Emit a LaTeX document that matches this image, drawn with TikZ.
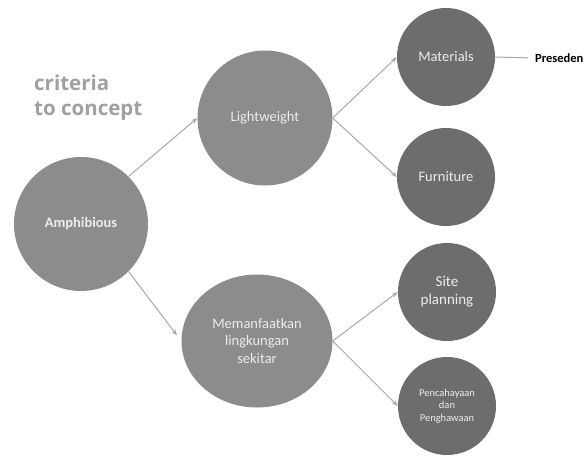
\documentclass[tikz,border=0pt]{standalone}
\usepackage{fontspec}
\setmainfont{Carlito}
\newfontfamily\titlefont{Open Sans}
\usetikzlibrary{arrows.meta,shapes.geometric}
\definecolor{bubA}{HTML}{8C8C8C}
\definecolor{bubB}{HTML}{6D6D6D}
\definecolor{ink}{HTML}{ECECEC}
\definecolor{linec}{HTML}{A8A8A8}
\definecolor{headc}{HTML}{A0A0A0}

\begin{document}
\begin{tikzpicture}[x=1pt,y=-1pt,
  bub/.style={circle,fill=bubA,text=ink,align=center,inner sep=0pt,
    font=\fontsize{14.5}{17.5}\selectfont},
  subbub/.style={bub,fill=bubB,minimum size=98pt},
  link/.style={linec,line width=1pt,-{Stealth[length=6pt,width=4.5pt]}}]
  \useasboundingbox (0,0) rectangle (588,455);
  % title
  \node[headc,font=\titlefont\bfseries\fontsize{20.5}{25}\selectfont,align=left,
    anchor=north west,inner sep=0pt] (title) at (34,75) {criteria\\to concept};
  % main criteria
  \node[bub,minimum size=134pt,font=\bfseries\fontsize{14.5}{17.5}\selectfont] (amph) at (81,224) {Amphibious};
  \node[bub,minimum size=135pt] (light) at (265,118) {Lightweight};
  \node[bub,ellipse,minimum width=151pt,minimum height=133pt] (mem) at (257,341)
    {Memanfaatkan\\lingkungan\\sekitar};
  % concepts
  \node[subbub] (mat) at (446,57) {Materials};
  \node[subbub] (furn) at (446,177) {Furniture};
  \node[subbub,font=\fontsize{15}{18}\selectfont] (site) at (447,292) {Site\\planning};
  \node[subbub,font=\fontsize{10.5}{12.5}\selectfont] (pen) at (447,406)
    {Pencahayaan\\dan\\Penghawaan};
  \node[anchor=west,inner sep=0pt,font=\bfseries\fontsize{12.5}{15}\selectfont] (pres) at (535,58) {Preseden};
  % connectors
  \draw[link] (amph.north east) -- (light.west);
  \draw[link,shorten >=7pt] (amph.south east) -- (mem.west);
  \draw[link] (light.east) -- (mat.west);
  \draw[link] (light.east) -- (furn.west);
  \draw[link] (mem.east) -- (site.west);
  \draw[link] (mem.east) -- (pen.west);
  \draw[linec,line width=1pt,shorten >=7pt] (mat.east) -- (pres.west);
\end{tikzpicture}
\end{document}
